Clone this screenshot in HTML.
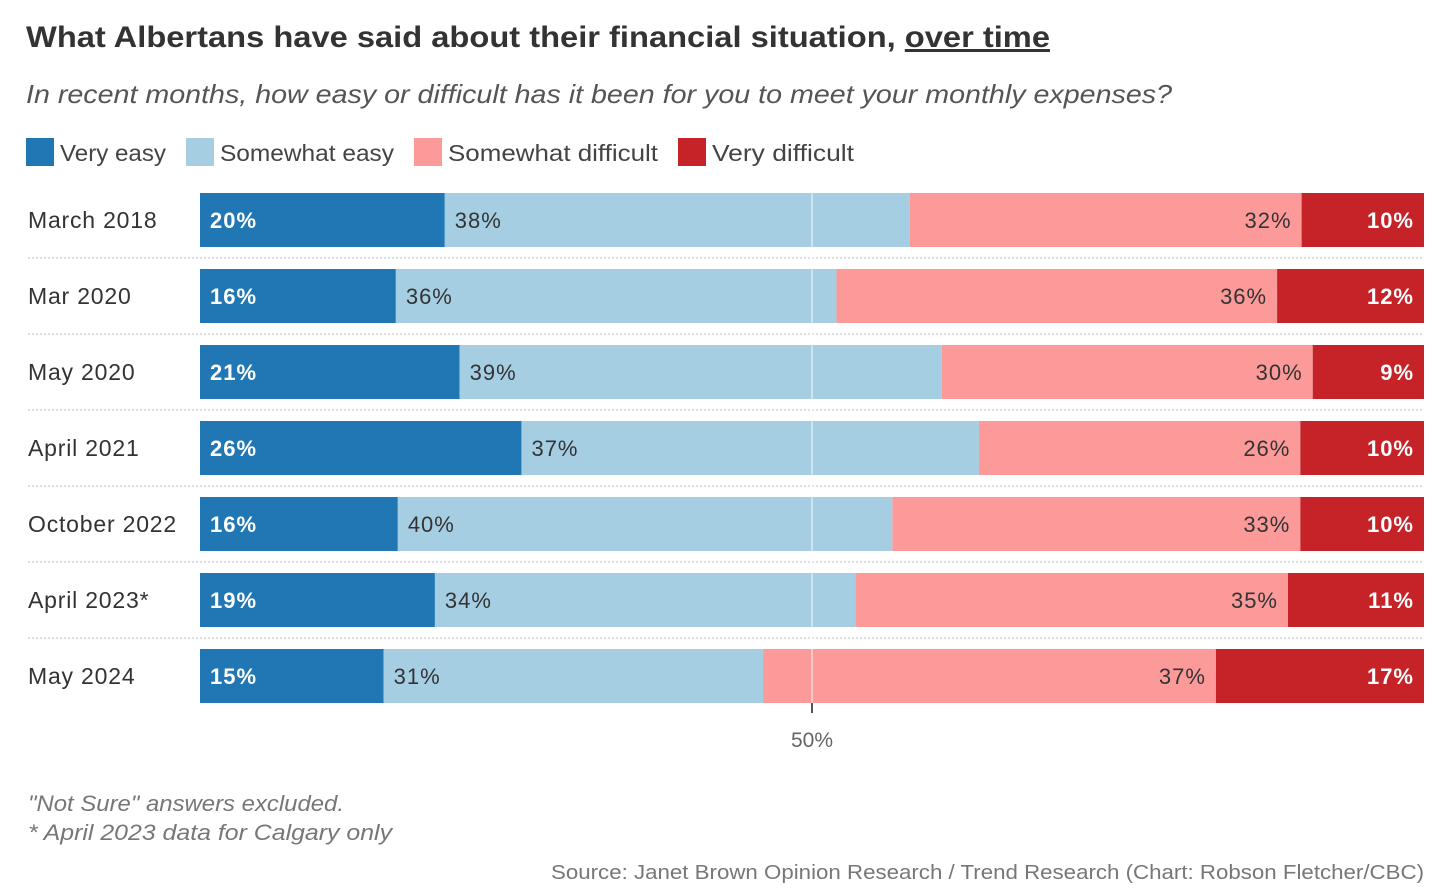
<!DOCTYPE html>
<html><head><meta charset="utf-8">
<style>
body{margin:0;background:#fff;width:1446px;height:896px;overflow:hidden;font-family:"Liberation Sans","DejaVu Sans",sans-serif;}
svg{display:block}
</style></head>
<body>
<svg id="chart" width="1446" height="896">
<text x="26" y="47" font-size="30" font-weight="bold" fill="#333" textLength="1024" lengthAdjust="spacingAndGlyphs">What Albertans have said about their financial situation, <tspan text-decoration="underline">over time</tspan></text>
<text x="26" y="103" font-size="26" font-style="italic" fill="#555" textLength="1146" lengthAdjust="spacingAndGlyphs">In recent months, how easy or difficult has it been for you to meet your monthly expenses?</text>
<g id="legend"></g>
<g id="rows"></g>
<line x1="812" y1="703" x2="812" y2="713" stroke="#555" stroke-width="2"/>
<text x="812" y="747" font-size="21" fill="#666" text-anchor="middle">50%</text>
<text x="28" y="811" font-size="22" font-style="italic" fill="#777" textLength="316" lengthAdjust="spacingAndGlyphs">"Not Sure" answers excluded.</text>
<text x="28" y="840" font-size="22" font-style="italic" fill="#777" textLength="364" lengthAdjust="spacingAndGlyphs">* April 2023 data for Calgary only</text>
<text x="551" y="879" font-size="20" fill="#777" textLength="873" lengthAdjust="spacingAndGlyphs">Source: Janet Brown Opinion Research / Trend Research (Chart: Robson Fletcher/CBC)</text>
</svg>
<script>
const categories=["March 2018","Mar 2020","May 2020","April 2021","October 2022","April 2023*","May 2024"];
const veryEasy=[20,16,21,26,16,19,15];
const somewhatEasy=[38,36,39,37,40,34,31];
const somewhatDifficult=[32,36,30,26,33,35,37];
const veryDifficult=[10,12,9,10,10,11,17];
const seriesNames=["Very easy","Somewhat easy","Somewhat difficult","Very difficult"];
const colors=["#2077b4","#a6cee3","#fb9a99","#c62329"];
const textColors=["#fff","#333","#333","#fff"];
const NS="http://www.w3.org/2000/svg";
const x0=200,x1=1424,top0=193,step=76,barH=54;
const xs=v=>x0+(x1-x0)*v/100;
function mk(tag,attrs,parent){const e=document.createElementNS(NS,tag);for(const k in attrs)e.setAttribute(k,attrs[k]);parent.appendChild(e);return e;}
const lg=document.getElementById('legend');
const legX=[26,186,414,678];
const legW=[106,174,210,142];
seriesNames.forEach((n,i)=>{
 const r=mk('rect',{x:legX[i],y:138,width:28,height:28,fill:colors[i]},lg);
 
 
 const t=mk('text',{x:legX[i]+34,y:161,'font-size':23,fill:'#444',textLength:legW[i],lengthAdjust:'spacingAndGlyphs'},lg);
 t.textContent=n;
 
 
});
const rows=document.getElementById('rows');
const series=[veryEasy,somewhatEasy,somewhatDifficult,veryDifficult];
categories.forEach((c,i)=>{
 const y=top0+i*step;
 const g=mk('g',{},rows);
 
 
 const lab=mk('text',{x:28,y:y+barH/2+8,'font-size':23,fill:'#333','letter-spacing':0.8},g);
 lab.textContent=c;
 
 
 const vals=series.map(s=>s[i]);
 const tot=vals.reduce((a,b)=>a+b,0);
 let cum=0;
 vals.forEach((v,j)=>{
  const a=xs(cum/tot*100),b=xs((cum+v)/tot*100);cum+=v;
  const r=mk('rect',{x:a,y:y,width:b-a,height:barH,fill:colors[j]},g);
  
  
  const right=j>=2;
  const t=mk('text',{x:right?b-10:a+10,y:y+barH/2+8,'font-size':22,fill:textColors[j],'font-weight':j%3==0?'bold':'normal','text-anchor':right?'end':'start','letter-spacing':1},g);
  t.textContent=v+'%';
  
  
 });
 if(i<categories.length-1){
  const l=mk('line',{x1:28,x2:1424,y1:y+barH+11,y2:y+barH+11,stroke:'#bbb','stroke-dasharray':'2,2'},rows);
  
  
 }
});
const gl=mk('line',{x1:xs(50),x2:xs(50),y1:top0,y2:top0+6*step+barH,stroke:'#fff','stroke-opacity':0.6,'stroke-width':1.5},rows);


</script>
</body></html>
